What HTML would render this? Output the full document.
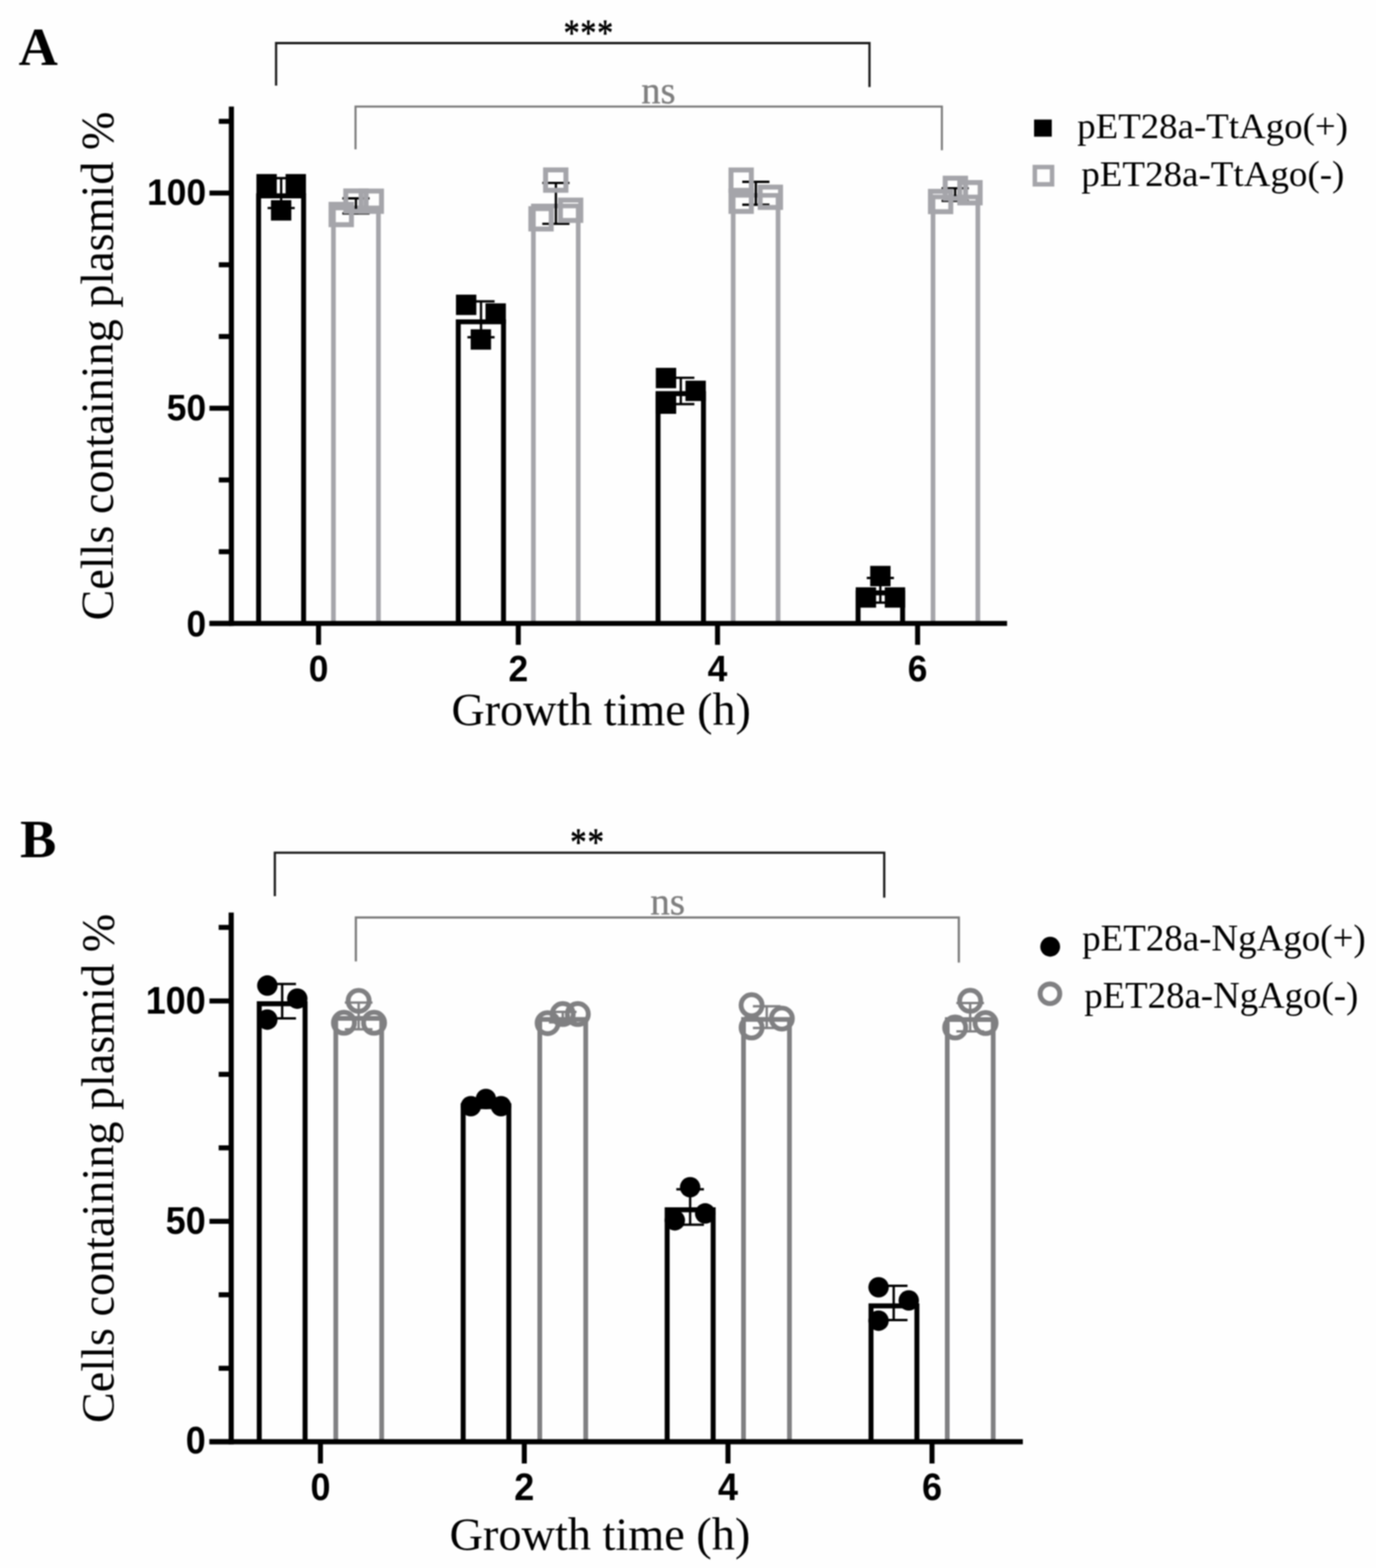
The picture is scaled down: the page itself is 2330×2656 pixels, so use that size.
<!DOCTYPE html>
<html lang="en"><head><meta charset="utf-8"><title>Figure</title>
<style>html,body{margin:0;padding:0;background:#fefefe;}body{width:2330px;height:2656px;overflow:hidden;}svg{display:block;}text{white-space:pre;}</style>
</head><body>
<svg width="2330" height="2656" viewBox="0 0 2330 2656">
<rect x="0" y="0" width="2330" height="2656" fill="#fefefe"/>
<defs><filter id="soft" x="0" y="0" width="2330" height="2656" filterUnits="userSpaceOnUse" color-interpolation-filters="sRGB"><feGaussianBlur stdDeviation="1"/></filter></defs>
<g filter="url(#soft)">
<rect x="0" y="0" width="2330" height="2656" fill="#fefefe"/>
<g id="panelA">
<path d="M437.9 1056.0 V331.7 H514.1 V1056.0" fill="none" stroke="#000" stroke-width="8.4" stroke-linejoin="miter"/>
<path d="M564.6 1056.0 V352.2 H640.8 V1056.0" fill="none" stroke="#a5a5aa" stroke-width="7.9" stroke-linejoin="miter"/>
<path d="M776.0 1056.0 V545.1 H852.6 V1056.0" fill="none" stroke="#000" stroke-width="8.4" stroke-linejoin="miter"/>
<path d="M903.2 1056.0 V348.9 H979.1 V1056.0" fill="none" stroke="#a5a5aa" stroke-width="7.9" stroke-linejoin="miter"/>
<path d="M1114.3 1056.0 V666.7 H1191.2 V1056.0" fill="none" stroke="#000" stroke-width="8.4" stroke-linejoin="miter"/>
<path d="M1241.5 1056.0 V330.9 H1317.5 V1056.0" fill="none" stroke="#a5a5aa" stroke-width="7.9" stroke-linejoin="miter"/>
<path d="M1453.0 1056.0 V1004.2 H1528.4 V1056.0" fill="none" stroke="#000" stroke-width="8.4" stroke-linejoin="miter"/>
<path d="M1579.9 1056.0 V333.6 H1655.8 V1056.0" fill="none" stroke="#a5a5aa" stroke-width="7.9" stroke-linejoin="miter"/>
<line x1="476.1" y1="301.8" x2="476.1" y2="352.4" stroke="#000" stroke-width="3.9" stroke-linecap="butt"/>
<line x1="453.1" y1="301.8" x2="499.1" y2="301.8" stroke="#000" stroke-width="3.9" stroke-linecap="butt"/>
<line x1="453.1" y1="352.4" x2="499.1" y2="352.4" stroke="#000" stroke-width="3.9" stroke-linecap="butt"/>
<line x1="602.7" y1="336.0" x2="602.7" y2="361.5" stroke="#000" stroke-width="3.9" stroke-linecap="butt"/>
<line x1="579.7" y1="336.0" x2="625.7" y2="336.0" stroke="#000" stroke-width="3.9" stroke-linecap="butt"/>
<line x1="579.7" y1="361.5" x2="625.7" y2="361.5" stroke="#000" stroke-width="3.9" stroke-linecap="butt"/>
<line x1="814.5" y1="510.5" x2="814.5" y2="571.2" stroke="#000" stroke-width="3.9" stroke-linecap="butt"/>
<line x1="791.5" y1="510.5" x2="837.5" y2="510.5" stroke="#000" stroke-width="3.9" stroke-linecap="butt"/>
<line x1="791.5" y1="571.2" x2="837.5" y2="571.2" stroke="#000" stroke-width="3.9" stroke-linecap="butt"/>
<line x1="941.3" y1="309.9" x2="941.3" y2="379.1" stroke="#000" stroke-width="3.9" stroke-linecap="butt"/>
<line x1="918.3" y1="309.9" x2="964.3" y2="309.9" stroke="#000" stroke-width="3.9" stroke-linecap="butt"/>
<line x1="918.3" y1="379.1" x2="964.3" y2="379.1" stroke="#000" stroke-width="3.9" stroke-linecap="butt"/>
<line x1="1152.8" y1="639.9" x2="1152.8" y2="684.5" stroke="#000" stroke-width="3.9" stroke-linecap="butt"/>
<line x1="1129.8" y1="639.9" x2="1175.8" y2="639.9" stroke="#000" stroke-width="3.9" stroke-linecap="butt"/>
<line x1="1129.8" y1="684.5" x2="1175.8" y2="684.5" stroke="#000" stroke-width="3.9" stroke-linecap="butt"/>
<line x1="1279.9" y1="308.0" x2="1279.9" y2="346.7" stroke="#000" stroke-width="3.9" stroke-linecap="butt"/>
<line x1="1256.9" y1="308.0" x2="1302.9" y2="308.0" stroke="#000" stroke-width="3.9" stroke-linecap="butt"/>
<line x1="1256.9" y1="346.7" x2="1302.9" y2="346.7" stroke="#000" stroke-width="3.9" stroke-linecap="butt"/>
<line x1="1490.7" y1="979.0" x2="1490.7" y2="1020.8" stroke="#000" stroke-width="3.9" stroke-linecap="butt"/>
<line x1="1467.7" y1="979.0" x2="1513.7" y2="979.0" stroke="#000" stroke-width="3.9" stroke-linecap="butt"/>
<line x1="1467.7" y1="1020.8" x2="1513.7" y2="1020.8" stroke="#000" stroke-width="3.9" stroke-linecap="butt"/>
<line x1="1617.4" y1="318.9" x2="1617.4" y2="340.3" stroke="#000" stroke-width="3.9" stroke-linecap="butt"/>
<line x1="1594.4" y1="318.9" x2="1640.4" y2="318.9" stroke="#000" stroke-width="3.9" stroke-linecap="butt"/>
<line x1="1594.4" y1="340.3" x2="1640.4" y2="340.3" stroke="#000" stroke-width="3.9" stroke-linecap="butt"/>
<rect x="434.2" y="294.8" width="34.5" height="34.5" fill="#000"/>
<rect x="483.6" y="294.8" width="34.5" height="34.5" fill="#000"/>
<rect x="458.8" y="339.1" width="34.5" height="34.5" fill="#000"/>
<rect x="560.6" y="346.1" width="34.5" height="34.5" fill="none" stroke="#a5a5aa" stroke-width="8.4"/>
<rect x="585.5" y="323.4" width="34.5" height="34.5" fill="none" stroke="#a5a5aa" stroke-width="8.4"/>
<rect x="611.5" y="323.6" width="34.5" height="34.5" fill="none" stroke="#a5a5aa" stroke-width="8.4"/>
<rect x="772.1" y="499.1" width="34.5" height="34.5" fill="#000"/>
<rect x="822.1" y="513.8" width="34.5" height="34.5" fill="#000"/>
<rect x="797.0" y="557.8" width="34.5" height="34.5" fill="#000"/>
<rect x="923.8" y="287.8" width="34.5" height="34.5" fill="none" stroke="#a5a5aa" stroke-width="8.4"/>
<rect x="898.9" y="353.4" width="34.5" height="34.5" fill="none" stroke="#a5a5aa" stroke-width="8.4"/>
<rect x="949.0" y="338.9" width="34.5" height="34.5" fill="none" stroke="#a5a5aa" stroke-width="8.4"/>
<rect x="1110.5" y="623.1" width="34.5" height="34.5" fill="#000"/>
<rect x="1160.7" y="644.8" width="34.5" height="34.5" fill="#000"/>
<rect x="1110.5" y="666.5" width="34.5" height="34.5" fill="#000"/>
<rect x="1237.8" y="287.9" width="34.5" height="34.5" fill="none" stroke="#a5a5aa" stroke-width="8.4"/>
<rect x="1237.8" y="323.6" width="34.5" height="34.5" fill="none" stroke="#a5a5aa" stroke-width="8.4"/>
<rect x="1287.2" y="316.9" width="34.5" height="34.5" fill="none" stroke="#a5a5aa" stroke-width="8.4"/>
<rect x="1473.5" y="958.5" width="34.5" height="34.5" fill="#000"/>
<rect x="1449.0" y="994.8" width="34.5" height="34.5" fill="#000"/>
<rect x="1498.2" y="994.8" width="34.5" height="34.5" fill="#000"/>
<rect x="1575.5" y="324.1" width="34.5" height="34.5" fill="none" stroke="#a5a5aa" stroke-width="8.4"/>
<rect x="1600.5" y="301.8" width="34.5" height="34.5" fill="none" stroke="#a5a5aa" stroke-width="8.4"/>
<rect x="1625.2" y="309.2" width="34.5" height="34.5" fill="none" stroke="#a5a5aa" stroke-width="8.4"/>
<line x1="391.8" y1="180.5" x2="391.8" y2="1060.3" stroke="#000" stroke-width="8.7" stroke-linecap="butt"/>
<line x1="354.7" y1="1056.0" x2="1705.3" y2="1056.0" stroke="#000" stroke-width="8.7" stroke-linecap="butt"/>
<line x1="354.7" y1="1056.0" x2="391.8" y2="1056.0" stroke="#000" stroke-width="8.5" stroke-linecap="butt"/>
<text x="0" y="0" transform="translate(349.0 1077.5) scale(1 1.06)" font-family='"Liberation Sans", sans-serif' font-size="60" font-weight="bold" fill="#000" text-anchor="end">0</text>
<line x1="370.5" y1="934.5" x2="391.8" y2="934.5" stroke="#000" stroke-width="8.5" stroke-linecap="butt"/>
<line x1="370.5" y1="813.0" x2="391.8" y2="813.0" stroke="#000" stroke-width="8.5" stroke-linecap="butt"/>
<line x1="354.7" y1="691.5" x2="391.8" y2="691.5" stroke="#000" stroke-width="8.5" stroke-linecap="butt"/>
<text x="0" y="0" transform="translate(349.0 711.5) scale(1 1.06)" font-family='"Liberation Sans", sans-serif' font-size="60" font-weight="bold" fill="#000" text-anchor="end">50</text>
<line x1="370.5" y1="570.0" x2="391.8" y2="570.0" stroke="#000" stroke-width="8.5" stroke-linecap="butt"/>
<line x1="370.5" y1="448.5" x2="391.8" y2="448.5" stroke="#000" stroke-width="8.5" stroke-linecap="butt"/>
<line x1="354.7" y1="327.0" x2="391.8" y2="327.0" stroke="#000" stroke-width="8.5" stroke-linecap="butt"/>
<text x="0" y="0" transform="translate(349.0 347.0) scale(1 1.06)" font-family='"Liberation Sans", sans-serif' font-size="60" font-weight="bold" fill="#000" text-anchor="end">100</text>
<line x1="370.5" y1="205.5" x2="391.8" y2="205.5" stroke="#000" stroke-width="8.5" stroke-linecap="butt"/>
<line x1="539.4" y1="1056.0" x2="539.4" y2="1092.3" stroke="#000" stroke-width="8.5" stroke-linecap="butt"/>
<text x="0" y="0" transform="translate(539.4 1153.5) scale(1 1.06)" font-family='"Liberation Sans", sans-serif' font-size="60" font-weight="bold" fill="#000" text-anchor="middle">0</text>
<line x1="877.6" y1="1056.0" x2="877.6" y2="1092.3" stroke="#000" stroke-width="8.5" stroke-linecap="butt"/>
<text x="0" y="0" transform="translate(877.6 1153.5) scale(1 1.06)" font-family='"Liberation Sans", sans-serif' font-size="60" font-weight="bold" fill="#000" text-anchor="middle">2</text>
<line x1="1215.0" y1="1056.0" x2="1215.0" y2="1092.3" stroke="#000" stroke-width="8.5" stroke-linecap="butt"/>
<text x="0" y="0" transform="translate(1215.0 1153.5) scale(1 1.06)" font-family='"Liberation Sans", sans-serif' font-size="60" font-weight="bold" fill="#000" text-anchor="middle">4</text>
<line x1="1553.8" y1="1056.0" x2="1553.8" y2="1092.3" stroke="#000" stroke-width="8.5" stroke-linecap="butt"/>
<text x="0" y="0" transform="translate(1553.8 1153.5) scale(1 1.06)" font-family='"Liberation Sans", sans-serif' font-size="60" font-weight="bold" fill="#000" text-anchor="middle">6</text>
<text x="764.5" y="1228.2" textLength="507.0" lengthAdjust="spacingAndGlyphs" font-family='"Liberation Serif", serif' font-size="78" font-weight="normal" fill="#000" text-anchor="start">Growth time (h)</text>
<text x="191.3" y="1051.0" transform="rotate(-90 191.3 1051.0)" textLength="862.0" lengthAdjust="spacingAndGlyphs" font-family='"Liberation Serif", serif' font-size="78" font-weight="normal" fill="#000" text-anchor="start">Cells containing plasmid %</text>
<text x="31.5" y="110.4" font-family='"Liberation Serif", serif' font-size="92" font-weight="bold" fill="#000" text-anchor="start">A</text>
<path d="M467.5 145.0 V73.0 H1472.3 V147.5" fill="none" stroke="#1a1a1a" stroke-width="3.8"/>
<text x="0" y="0" transform="translate(997.0 77.3) scale(1 1.165)" font-family='"Liberation Serif", serif' font-size="54" font-weight="normal" fill="#000" text-anchor="middle" letter-spacing="1.4" stroke="#000" stroke-width="0.9" stroke-linejoin="round">***</text>
<path d="M602.0 253.0 V180.6 H1594.9 V254.5" fill="none" stroke="#7c7c7c" stroke-width="3.5"/>
<text x="1115.0" y="174.6" font-family='"Liberation Serif", serif' font-size="65" font-weight="normal" fill="#7f7f7f" text-anchor="middle" stroke="#7f7f7f" stroke-width="0.6" stroke-linejoin="round">ns</text>
<text x="1824.0" y="234.4" textLength="458.5" lengthAdjust="spacingAndGlyphs" font-family='"Liberation Serif", serif' font-size="62" font-weight="normal" fill="#000" text-anchor="start">pET28a-TtAgo(+)</text>
<text x="1831.0" y="315.0" textLength="445.5" lengthAdjust="spacingAndGlyphs" font-family='"Liberation Serif", serif' font-size="62" font-weight="normal" fill="#000" text-anchor="start">pET28a-TtAgo(-)</text>
<rect x="1751.0" y="202.5" width="30" height="29" fill="#000"/>
<rect x="1752.3" y="283.0" width="29.2" height="29.2" fill="none" stroke="#a5a5aa" stroke-width="7.6"/>
</g>
<g id="panelB">
<path d="M439.0 2442.1 V1700.2 H516.6 V2442.1" fill="none" stroke="#000" stroke-width="8.4" stroke-linejoin="miter"/>
<path d="M568.6 2442.1 V1724.9 H646.3 V2442.1" fill="none" stroke="#808082" stroke-width="8.0" stroke-linejoin="miter"/>
<path d="M784.3 2442.1 V1872.9 H861.6 V2442.1" fill="none" stroke="#000" stroke-width="8.4" stroke-linejoin="miter"/>
<path d="M914.0 2442.1 V1726.8 H991.8 V2442.1" fill="none" stroke="#808082" stroke-width="8.0" stroke-linejoin="miter"/>
<path d="M1129.7 2442.1 V2049.2 H1207.6 V2442.1" fill="none" stroke="#000" stroke-width="8.4" stroke-linejoin="miter"/>
<path d="M1259.0 2442.1 V1726.8 H1336.8 V2442.1" fill="none" stroke="#808082" stroke-width="8.0" stroke-linejoin="miter"/>
<path d="M1474.9 2442.1 V2212.0 H1552.6 V2442.1" fill="none" stroke="#000" stroke-width="8.4" stroke-linejoin="miter"/>
<path d="M1604.0 2442.1 V1727.0 H1681.8 V2442.1" fill="none" stroke="#808082" stroke-width="8.0" stroke-linejoin="miter"/>
<line x1="477.8" y1="1666.8" x2="477.8" y2="1724.9" stroke="#000" stroke-width="4.0" stroke-linecap="butt"/>
<line x1="454.4" y1="1666.8" x2="501.2" y2="1666.8" stroke="#000" stroke-width="4.0" stroke-linecap="butt"/>
<line x1="454.4" y1="1724.9" x2="501.2" y2="1724.9" stroke="#000" stroke-width="4.0" stroke-linecap="butt"/>
<line x1="607.3" y1="1698.3" x2="607.3" y2="1743.5" stroke="#808082" stroke-width="4.0" stroke-linecap="butt"/>
<line x1="583.9" y1="1698.3" x2="630.7" y2="1698.3" stroke="#808082" stroke-width="4.0" stroke-linecap="butt"/>
<line x1="583.9" y1="1743.5" x2="630.7" y2="1743.5" stroke="#808082" stroke-width="4.0" stroke-linecap="butt"/>
<line x1="822.9" y1="1862.7" x2="822.9" y2="1876.7" stroke="#000" stroke-width="4.0" stroke-linecap="butt"/>
<line x1="799.5" y1="1862.7" x2="846.3" y2="1862.7" stroke="#000" stroke-width="4.0" stroke-linecap="butt"/>
<line x1="799.5" y1="1876.7" x2="846.3" y2="1876.7" stroke="#000" stroke-width="4.0" stroke-linecap="butt"/>
<line x1="952.9" y1="1713.9" x2="952.9" y2="1731.7" stroke="#808082" stroke-width="4.0" stroke-linecap="butt"/>
<line x1="929.5" y1="1713.9" x2="976.3" y2="1713.9" stroke="#808082" stroke-width="4.0" stroke-linecap="butt"/>
<line x1="929.5" y1="1731.7" x2="976.3" y2="1731.7" stroke="#808082" stroke-width="4.0" stroke-linecap="butt"/>
<line x1="1168.6" y1="2014.4" x2="1168.6" y2="2074.6" stroke="#000" stroke-width="4.0" stroke-linecap="butt"/>
<line x1="1145.2" y1="2014.4" x2="1192.0" y2="2014.4" stroke="#000" stroke-width="4.0" stroke-linecap="butt"/>
<line x1="1145.2" y1="2074.6" x2="1192.0" y2="2074.6" stroke="#000" stroke-width="4.0" stroke-linecap="butt"/>
<line x1="1298.3" y1="1704.4" x2="1298.3" y2="1741.2" stroke="#808082" stroke-width="4.0" stroke-linecap="butt"/>
<line x1="1274.9" y1="1704.4" x2="1321.7" y2="1704.4" stroke="#808082" stroke-width="4.0" stroke-linecap="butt"/>
<line x1="1274.9" y1="1741.2" x2="1321.7" y2="1741.2" stroke="#808082" stroke-width="4.0" stroke-linecap="butt"/>
<line x1="1513.3" y1="2178.0" x2="1513.3" y2="2235.9" stroke="#000" stroke-width="4.0" stroke-linecap="butt"/>
<line x1="1489.9" y1="2178.0" x2="1536.7" y2="2178.0" stroke="#000" stroke-width="4.0" stroke-linecap="butt"/>
<line x1="1489.9" y1="2235.9" x2="1536.7" y2="2235.9" stroke="#000" stroke-width="4.0" stroke-linecap="butt"/>
<line x1="1642.8" y1="1698.9" x2="1642.8" y2="1747.1" stroke="#808082" stroke-width="4.0" stroke-linecap="butt"/>
<line x1="1619.4" y1="1698.9" x2="1666.2" y2="1698.9" stroke="#808082" stroke-width="4.0" stroke-linecap="butt"/>
<line x1="1619.4" y1="1747.1" x2="1666.2" y2="1747.1" stroke="#808082" stroke-width="4.0" stroke-linecap="butt"/>
<circle cx="452.7" cy="1669.4" r="17.3" fill="#000"/>
<circle cx="503.4" cy="1691.6" r="17.3" fill="#000"/>
<circle cx="452.7" cy="1727.1" r="17.3" fill="#000"/>
<circle cx="607.3" cy="1695.3" r="17.8" fill="none" stroke="#808082" stroke-width="8.2"/>
<circle cx="582.4" cy="1732.4" r="17.8" fill="none" stroke="#808082" stroke-width="8.2"/>
<circle cx="633.4" cy="1732.4" r="17.8" fill="none" stroke="#808082" stroke-width="8.2"/>
<circle cx="797.3" cy="1873.8" r="17.3" fill="#000"/>
<circle cx="822.8" cy="1861.6" r="17.3" fill="#000"/>
<circle cx="848.4" cy="1873.8" r="17.3" fill="#000"/>
<circle cx="927.3" cy="1733.1" r="17.8" fill="none" stroke="#808082" stroke-width="8.2"/>
<circle cx="952.9" cy="1717.7" r="17.8" fill="none" stroke="#808082" stroke-width="8.2"/>
<circle cx="978.4" cy="1717.7" r="17.8" fill="none" stroke="#808082" stroke-width="8.2"/>
<circle cx="1168.6" cy="2011.0" r="17.3" fill="#000"/>
<circle cx="1142.7" cy="2067.1" r="17.3" fill="#000"/>
<circle cx="1194.1" cy="2055.4" r="17.3" fill="#000"/>
<circle cx="1272.7" cy="1702.7" r="17.8" fill="none" stroke="#808082" stroke-width="8.2"/>
<circle cx="1272.7" cy="1740.4" r="17.8" fill="none" stroke="#808082" stroke-width="8.2"/>
<circle cx="1323.9" cy="1725.3" r="17.8" fill="none" stroke="#808082" stroke-width="8.2"/>
<circle cx="1487.7" cy="2180.5" r="17.3" fill="#000"/>
<circle cx="1538.8" cy="2202.8" r="17.3" fill="#000"/>
<circle cx="1487.7" cy="2237.1" r="17.3" fill="#000"/>
<circle cx="1642.8" cy="1695.2" r="17.8" fill="none" stroke="#808082" stroke-width="8.2"/>
<circle cx="1617.4" cy="1740.4" r="17.8" fill="none" stroke="#808082" stroke-width="8.2"/>
<circle cx="1668.9" cy="1732.9" r="17.8" fill="none" stroke="#808082" stroke-width="8.2"/>
<line x1="391.5" y1="1545.7" x2="391.5" y2="2446.4" stroke="#000" stroke-width="8.7" stroke-linecap="butt"/>
<line x1="354.7" y1="2442.1" x2="1732.0" y2="2442.1" stroke="#000" stroke-width="8.7" stroke-linecap="butt"/>
<line x1="354.7" y1="2442.1" x2="391.5" y2="2442.1" stroke="#000" stroke-width="8.5" stroke-linecap="butt"/>
<text x="0" y="0" transform="translate(348.4 2462.1) scale(1 1.06)" font-family='"Liberation Sans", sans-serif' font-size="61" font-weight="bold" fill="#000" text-anchor="end">0</text>
<line x1="370.3" y1="2317.7" x2="391.5" y2="2317.7" stroke="#000" stroke-width="8.5" stroke-linecap="butt"/>
<line x1="370.3" y1="2193.2" x2="391.5" y2="2193.2" stroke="#000" stroke-width="8.5" stroke-linecap="butt"/>
<line x1="354.7" y1="2068.8" x2="391.5" y2="2068.8" stroke="#000" stroke-width="8.5" stroke-linecap="butt"/>
<text x="0" y="0" transform="translate(348.4 2089.9) scale(1 1.06)" font-family='"Liberation Sans", sans-serif' font-size="61" font-weight="bold" fill="#000" text-anchor="end">50</text>
<line x1="370.3" y1="1944.3" x2="391.5" y2="1944.3" stroke="#000" stroke-width="8.5" stroke-linecap="butt"/>
<line x1="370.3" y1="1819.8" x2="391.5" y2="1819.8" stroke="#000" stroke-width="8.5" stroke-linecap="butt"/>
<line x1="354.7" y1="1695.4" x2="391.5" y2="1695.4" stroke="#000" stroke-width="8.5" stroke-linecap="butt"/>
<text x="0" y="0" transform="translate(348.4 1716.9) scale(1 1.06)" font-family='"Liberation Sans", sans-serif' font-size="61" font-weight="bold" fill="#000" text-anchor="end">100</text>
<line x1="370.3" y1="1570.9" x2="391.5" y2="1570.9" stroke="#000" stroke-width="8.5" stroke-linecap="butt"/>
<line x1="542.6" y1="2442.1" x2="542.6" y2="2479.0" stroke="#000" stroke-width="8.5" stroke-linecap="butt"/>
<text x="0" y="0" transform="translate(542.6 2540.9) scale(1 1.06)" font-family='"Liberation Sans", sans-serif' font-size="61" font-weight="bold" fill="#000" text-anchor="middle">0</text>
<line x1="887.8" y1="2442.1" x2="887.8" y2="2479.0" stroke="#000" stroke-width="8.5" stroke-linecap="butt"/>
<text x="0" y="0" transform="translate(887.8 2540.9) scale(1 1.06)" font-family='"Liberation Sans", sans-serif' font-size="61" font-weight="bold" fill="#000" text-anchor="middle">2</text>
<line x1="1232.7" y1="2442.1" x2="1232.7" y2="2479.0" stroke="#000" stroke-width="8.5" stroke-linecap="butt"/>
<text x="0" y="0" transform="translate(1232.7 2540.9) scale(1 1.06)" font-family='"Liberation Sans", sans-serif' font-size="61" font-weight="bold" fill="#000" text-anchor="middle">4</text>
<line x1="1578.2" y1="2442.1" x2="1578.2" y2="2479.0" stroke="#000" stroke-width="8.5" stroke-linecap="butt"/>
<text x="0" y="0" transform="translate(1578.2 2540.9) scale(1 1.06)" font-family='"Liberation Sans", sans-serif' font-size="61" font-weight="bold" fill="#000" text-anchor="middle">6</text>
<text x="761.2" y="2624.8" textLength="509.3" lengthAdjust="spacingAndGlyphs" font-family='"Liberation Serif", serif' font-size="78" font-weight="normal" fill="#000" text-anchor="start">Growth time (h)</text>
<text x="192.0" y="2410.4" transform="rotate(-90 192.0 2410.4)" textLength="862.5" lengthAdjust="spacingAndGlyphs" font-family='"Liberation Serif", serif' font-size="78" font-weight="normal" fill="#000" text-anchor="start">Cells containing plasmid %</text>
<text x="34.0" y="1452.3" font-family='"Liberation Serif", serif' font-size="92" font-weight="bold" fill="#000" text-anchor="start">B</text>
<path d="M465.4 1518.0 V1444.3 H1497.3 V1520.6" fill="none" stroke="#1a1a1a" stroke-width="3.8"/>
<text x="0" y="0" transform="translate(994.9 1448.4) scale(1 1.165)" font-family='"Liberation Serif", serif' font-size="55.5" font-weight="normal" fill="#000" text-anchor="middle" letter-spacing="1.55" stroke="#000" stroke-width="0.9" stroke-linejoin="round">**</text>
<path d="M602.6 1628.4 V1554.2 H1623.6 V1630.6" fill="none" stroke="#7c7c7c" stroke-width="3.8"/>
<text x="1130.5" y="1549.0" font-family='"Liberation Serif", serif' font-size="66" font-weight="normal" fill="#7f7f7f" text-anchor="middle" stroke="#7f7f7f" stroke-width="0.6" stroke-linejoin="round">ns</text>
<text x="1832.5" y="1610.0" textLength="480.0" lengthAdjust="spacingAndGlyphs" font-family='"Liberation Serif", serif' font-size="63" font-weight="normal" fill="#000" text-anchor="start">pET28a-NgAgo(+)</text>
<text x="1836.0" y="1706.7" textLength="464.0" lengthAdjust="spacingAndGlyphs" font-family='"Liberation Serif", serif' font-size="63" font-weight="normal" fill="#000" text-anchor="start">pET28a-NgAgo(-)</text>
<circle cx="1778.3" cy="1603.6" r="16.8" fill="#000"/>
<circle cx="1777.9" cy="1683.3" r="16.6" fill="none" stroke="#808082" stroke-width="8.4"/>
</g>
</g>
</svg></body></html>
